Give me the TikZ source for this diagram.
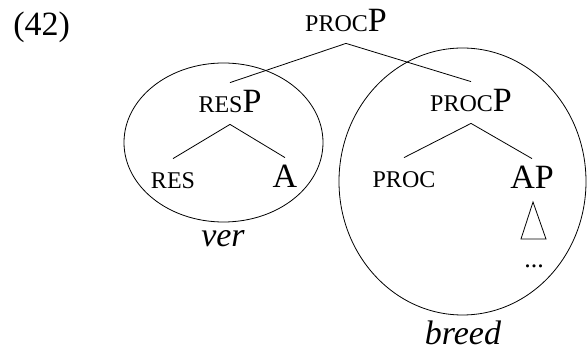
\documentclass[tikz,border=0pt]{standalone}
\usepackage{fontspec}
\setmainfont{Liberation Serif}
\newcommand{\fsc}[1]{{\fontsize{24pt}{28pt}\selectfont\uppercase{#1}}}

\begin{document}
\begin{tikzpicture}[x=1pt,y=-1pt,line width=.8pt,font=\fontsize{34pt}{40pt}\selectfont]
\tikzset{lab/.style={anchor=base,inner sep=11pt,text height=19pt,text depth=0pt}}

\useasboundingbox (0,0) rectangle (587,352);

%numero
\node[anchor=base west,inner sep=0pt] (num) at (13,36) {(42)};

%albero
\begin{scope}
\node[lab] (top) at (346,32) {\fsc{proc}P};
\node[lab] (resP) at (230,113) {\fsc{res}P};
\node[lab] (procP) at (471,112) {\fsc{proc}P};
\node[lab] (res) at (173,189) {\fsc{res}};
\node[lab] (a) at (285,188) {A};
\node[lab] (proc) at (404,188) {\fsc{proc}};
\node[lab] (ap) at (532,189) {AP};

\draw (top.south) -- (resP.north);
\draw (top.south) -- (procP.north);
\draw (resP.south) -- (res.north);
\draw (resP.south) -- (a.north);
\draw (procP.south) -- (proc.north);
\draw (procP.south) -- (ap.north);

\draw (533,202) -- (546,239) -- (521,239) -- cycle;
\node[anchor=base,font=\fontsize{26pt}{30pt}\selectfont] (dots) at (534,268) {...};
\end{scope}

%cerchi
\draw (223.5,142.5) ellipse [x radius=99.5pt, y radius=79.5pt];
\draw (462.5,181.5) ellipse [x radius=123.5pt, y radius=133.5pt];

\node[anchor=base] (ver) at (223,247) {\itshape ver};
\node[anchor=base] (breed) at (463,345) {\itshape breed};

\end{tikzpicture}
\end{document}
